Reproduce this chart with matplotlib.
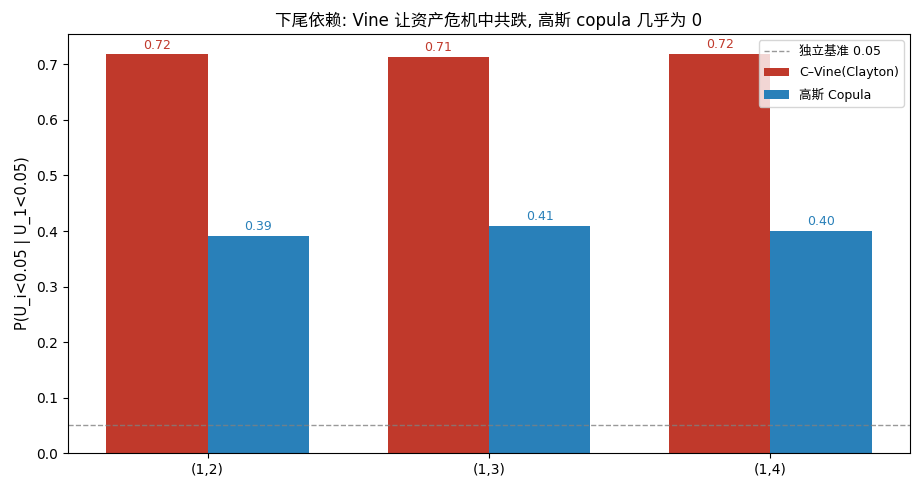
import matplotlib
matplotlib.use("Agg")
import matplotlib.pyplot as plt
import numpy as np

plt.rcParams['font.family'] = ['DejaVu Sans', 'Noto Sans CJK SC']
plt.rcParams['axes.unicode_minus'] = False

pairs = ["(1,2)", "(1,3)", "(1,4)"]
vine = [0.718, 0.714, 0.719]
gauss = [0.391, 0.409, 0.400]
baseline = 0.05

fig, ax = plt.subplots(figsize=(9.2, 4.91), dpi=100)
x = np.arange(len(pairs))
w = 0.36
b1 = ax.bar(x - w/2, vine, w, color="#c0392b", label="C\u2013Vine(Clayton)")
b2 = ax.bar(x + w/2, gauss, w, color="#2980b9", label="高斯 Copula")
ax.axhline(baseline, color="gray", ls="--", lw=1, alpha=0.8, label="独立基准 0.05")
for r, v in zip(b1, vine):
    ax.text(r.get_x() + r.get_width()/2, v + 0.005, f"{v:.2f}", ha="center", va="bottom",
            color="#c0392b", fontsize=9)
for r, v in zip(b2, gauss):
    ax.text(r.get_x() + r.get_width()/2, v + 0.005, f"{v:.2f}", ha="center", va="bottom",
            color="#2980b9", fontsize=9)
ax.set_xticks(x)
ax.set_xticklabels(pairs)
ax.set_ylabel("P(U_i<0.05 | U_1<0.05)", fontsize=10.5)
ax.set_title("下尾依赖: Vine 让资产危机中共跌, 高斯 copula 几乎为 0", fontsize=12)
ax.legend(loc="upper right", fontsize=9, labelspacing=0.65)
fig.subplots_adjust(left=0.074, right=0.989, top=0.931, bottom=0.077)
fig.savefig("out.png")
